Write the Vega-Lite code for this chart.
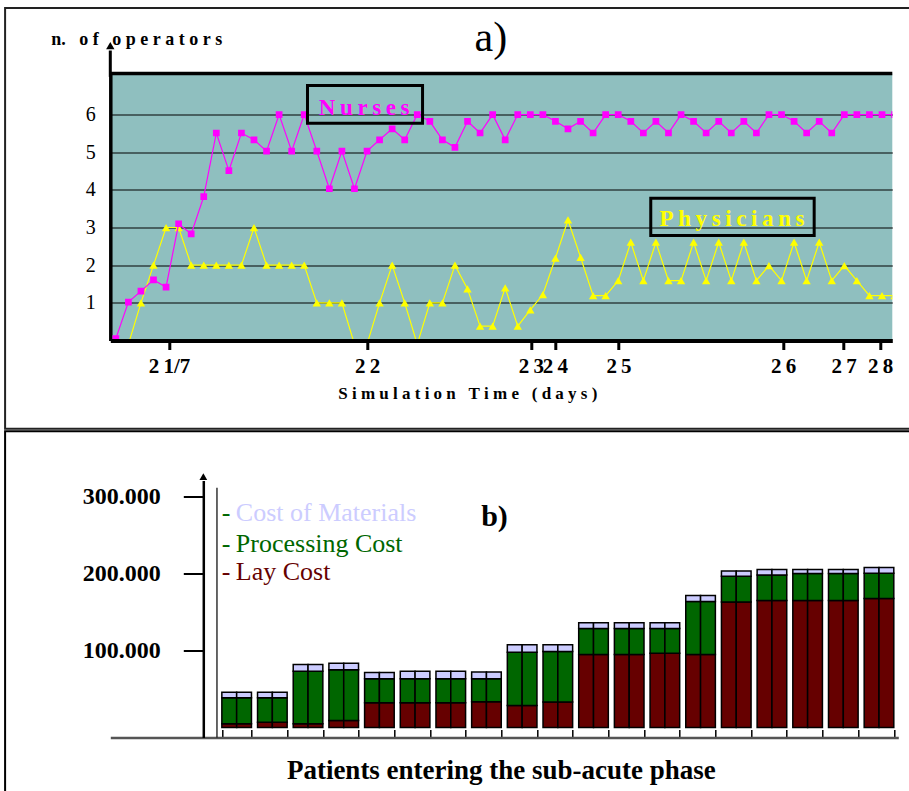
{
  "$schema": "https://vega.github.io/schema/vega-lite/v6.json",
  "background": "white",
  "padding": {"left": 3.3, "top": 6.5, "right": 0, "bottom": 0},
  "bounds": "flush",
  "spacing": 140,
  "config": {"view": {"stroke": null}, "font": "Liberation Serif"},
  "datasets": {
    "ops": [
      {"i":0,"s":"N","v":0.05},{"i":1,"s":"N","v":1.02},{"i":2,"s":"N","v":1.31},{"i":3,"s":"N","v":1.61},{"i":4,"s":"N","v":1.42},
      {"i":5,"s":"N","v":3.10},{"i":6,"s":"N","v":2.83},{"i":7,"s":"N","v":3.82},{"i":8,"s":"N","v":5.51},{"i":9,"s":"N","v":4.51},
      {"i":10,"s":"N","v":5.51},{"i":11,"s":"N","v":5.33},{"i":12,"s":"N","v":5.03},{"i":13,"s":"N","v":6.0},{"i":14,"s":"N","v":5.03},
      {"i":15,"s":"N","v":6.0},{"i":16,"s":"N","v":5.03},{"i":17,"s":"N","v":4.03},{"i":18,"s":"N","v":5.03},{"i":19,"s":"N","v":4.03},
      {"i":20,"s":"N","v":5.03},{"i":21,"s":"N","v":5.33},{"i":22,"s":"N","v":5.62},{"i":23,"s":"N","v":5.33},{"i":24,"s":"N","v":6.0},
      {"i":25,"s":"N","v":5.82},{"i":26,"s":"N","v":5.33},{"i":27,"s":"N","v":5.13},{"i":28,"s":"N","v":5.82},{"i":29,"s":"N","v":5.51},
      {"i":30,"s":"N","v":6.0},{"i":31,"s":"N","v":5.33},{"i":32,"s":"N","v":6.0},{"i":33,"s":"N","v":6.0},{"i":34,"s":"N","v":6.0},
      {"i":35,"s":"N","v":5.82},{"i":36,"s":"N","v":5.62},{"i":37,"s":"N","v":5.82},{"i":38,"s":"N","v":5.51},{"i":39,"s":"N","v":6.0},
      {"i":40,"s":"N","v":6.0},{"i":41,"s":"N","v":5.82},{"i":42,"s":"N","v":5.51},{"i":43,"s":"N","v":5.82},{"i":44,"s":"N","v":5.51},
      {"i":45,"s":"N","v":6.0},{"i":46,"s":"N","v":5.82},{"i":47,"s":"N","v":5.51},{"i":48,"s":"N","v":5.82},{"i":49,"s":"N","v":5.51},
      {"i":50,"s":"N","v":5.82},{"i":51,"s":"N","v":5.51},{"i":52,"s":"N","v":6.0},{"i":53,"s":"N","v":6.0},{"i":54,"s":"N","v":5.82},
      {"i":55,"s":"N","v":5.51},{"i":56,"s":"N","v":5.82},{"i":57,"s":"N","v":5.51},{"i":58,"s":"N","v":6.0},{"i":59,"s":"N","v":6.0},
      {"i":60,"s":"N","v":6.0},{"i":61,"s":"N","v":6.0},{"i":62,"s":"N","v":6.0},
      {"i":0,"s":"P","v":-0.1},{"i":1,"s":"P","v":-0.1},{"i":2,"s":"P","v":1.0},{"i":3,"s":"P","v":2.0},{"i":4,"s":"P","v":3.0},
      {"i":5,"s":"P","v":3.0},{"i":6,"s":"P","v":2.0},{"i":7,"s":"P","v":2.0},{"i":8,"s":"P","v":2.0},{"i":9,"s":"P","v":2.0},
      {"i":10,"s":"P","v":2.0},{"i":11,"s":"P","v":3.0},{"i":12,"s":"P","v":2.0},{"i":13,"s":"P","v":2.0},{"i":14,"s":"P","v":2.0},
      {"i":15,"s":"P","v":2.0},{"i":16,"s":"P","v":1.0},{"i":17,"s":"P","v":1.0},{"i":18,"s":"P","v":1.0},{"i":19,"s":"P","v":-0.1},
      {"i":20,"s":"P","v":-0.1},{"i":21,"s":"P","v":1.0},{"i":22,"s":"P","v":2.0},{"i":23,"s":"P","v":1.0},{"i":24,"s":"P","v":-0.1},
      {"i":25,"s":"P","v":1.0},{"i":26,"s":"P","v":1.0},{"i":27,"s":"P","v":2.0},{"i":28,"s":"P","v":1.37},{"i":29,"s":"P","v":0.38},
      {"i":30,"s":"P","v":0.38},{"i":31,"s":"P","v":1.4},{"i":32,"s":"P","v":0.38},{"i":33,"s":"P","v":0.81},{"i":34,"s":"P","v":1.22},
      {"i":35,"s":"P","v":2.19},{"i":36,"s":"P","v":3.2},{"i":37,"s":"P","v":2.21},{"i":38,"s":"P","v":1.19},{"i":39,"s":"P","v":1.19},
      {"i":40,"s":"P","v":1.59},{"i":41,"s":"P","v":2.61},{"i":42,"s":"P","v":1.59},{"i":43,"s":"P","v":2.61},{"i":44,"s":"P","v":1.59},
      {"i":45,"s":"P","v":1.59},{"i":46,"s":"P","v":2.61},{"i":47,"s":"P","v":1.59},{"i":48,"s":"P","v":2.61},{"i":49,"s":"P","v":1.59},
      {"i":50,"s":"P","v":2.61},{"i":51,"s":"P","v":1.59},{"i":52,"s":"P","v":1.99},{"i":53,"s":"P","v":1.59},{"i":54,"s":"P","v":2.61},
      {"i":55,"s":"P","v":1.59},{"i":56,"s":"P","v":2.61},{"i":57,"s":"P","v":1.59},{"i":58,"s":"P","v":1.99},{"i":59,"s":"P","v":1.59},
      {"i":60,"s":"P","v":1.19},{"i":61,"s":"P","v":1.19},{"i":62,"s":"P","v":1.19}
    ],
    "costs": [
      {"p":1,"h":"a","c":"Lay Cost","o":1,"v":4800},{"p":1,"h":"a","c":"Processing Cost","o":2,"v":33800},{"p":1,"h":"a","c":"Cost of Materials","o":3,"v":7200},
      {"p":1,"h":"b","c":"Lay Cost","o":1,"v":4800},{"p":1,"h":"b","c":"Processing Cost","o":2,"v":33800},{"p":1,"h":"b","c":"Cost of Materials","o":3,"v":7200},
      {"p":2,"h":"a","c":"Lay Cost","o":1,"v":6900},{"p":2,"h":"a","c":"Processing Cost","o":2,"v":31700},{"p":2,"h":"a","c":"Cost of Materials","o":3,"v":7200},
      {"p":2,"h":"b","c":"Lay Cost","o":1,"v":6900},{"p":2,"h":"b","c":"Processing Cost","o":2,"v":31700},{"p":2,"h":"b","c":"Cost of Materials","o":3,"v":7200},
      {"p":3,"h":"a","c":"Lay Cost","o":1,"v":4800},{"p":3,"h":"a","c":"Processing Cost","o":2,"v":68300},{"p":3,"h":"a","c":"Cost of Materials","o":3,"v":8700},
      {"p":3,"h":"b","c":"Lay Cost","o":1,"v":4800},{"p":3,"h":"b","c":"Processing Cost","o":2,"v":68300},{"p":3,"h":"b","c":"Cost of Materials","o":3,"v":8700},
      {"p":4,"h":"a","c":"Lay Cost","o":1,"v":9100},{"p":4,"h":"a","c":"Processing Cost","o":2,"v":65800},{"p":4,"h":"a","c":"Cost of Materials","o":3,"v":8600},
      {"p":4,"h":"b","c":"Lay Cost","o":1,"v":9100},{"p":4,"h":"b","c":"Processing Cost","o":2,"v":65800},{"p":4,"h":"b","c":"Cost of Materials","o":3,"v":8600},
      {"p":5,"h":"a","c":"Lay Cost","o":1,"v":32100},{"p":5,"h":"a","c":"Processing Cost","o":2,"v":31100},{"p":5,"h":"a","c":"Cost of Materials","o":3,"v":8200},
      {"p":5,"h":"b","c":"Lay Cost","o":1,"v":32100},{"p":5,"h":"b","c":"Processing Cost","o":2,"v":31100},{"p":5,"h":"b","c":"Cost of Materials","o":3,"v":8200},
      {"p":6,"h":"a","c":"Lay Cost","o":1,"v":32100},{"p":6,"h":"a","c":"Processing Cost","o":2,"v":31100},{"p":6,"h":"a","c":"Cost of Materials","o":3,"v":9900},
      {"p":6,"h":"b","c":"Lay Cost","o":1,"v":32100},{"p":6,"h":"b","c":"Processing Cost","o":2,"v":31100},{"p":6,"h":"b","c":"Cost of Materials","o":3,"v":9900},
      {"p":7,"h":"a","c":"Lay Cost","o":1,"v":32100},{"p":7,"h":"a","c":"Processing Cost","o":2,"v":31100},{"p":7,"h":"a","c":"Cost of Materials","o":3,"v":9900},
      {"p":7,"h":"b","c":"Lay Cost","o":1,"v":32100},{"p":7,"h":"b","c":"Processing Cost","o":2,"v":31100},{"p":7,"h":"b","c":"Cost of Materials","o":3,"v":9900},
      {"p":8,"h":"a","c":"Lay Cost","o":1,"v":33500},{"p":8,"h":"a","c":"Processing Cost","o":2,"v":30000},{"p":8,"h":"a","c":"Cost of Materials","o":3,"v":8500},
      {"p":8,"h":"b","c":"Lay Cost","o":1,"v":33500},{"p":8,"h":"b","c":"Processing Cost","o":2,"v":30000},{"p":8,"h":"b","c":"Cost of Materials","o":3,"v":8500},
      {"p":9,"h":"a","c":"Lay Cost","o":1,"v":28600},{"p":9,"h":"a","c":"Processing Cost","o":2,"v":69200},{"p":9,"h":"a","c":"Cost of Materials","o":3,"v":9700},
      {"p":9,"h":"b","c":"Lay Cost","o":1,"v":28600},{"p":9,"h":"b","c":"Processing Cost","o":2,"v":69200},{"p":9,"h":"b","c":"Cost of Materials","o":3,"v":9700},
      {"p":10,"h":"a","c":"Lay Cost","o":1,"v":33100},{"p":10,"h":"a","c":"Processing Cost","o":2,"v":65600},{"p":10,"h":"a","c":"Cost of Materials","o":3,"v":8800},
      {"p":10,"h":"b","c":"Lay Cost","o":1,"v":33100},{"p":10,"h":"b","c":"Processing Cost","o":2,"v":65600},{"p":10,"h":"b","c":"Cost of Materials","o":3,"v":8800},
      {"p":11,"h":"a","c":"Lay Cost","o":1,"v":94800},{"p":11,"h":"a","c":"Processing Cost","o":2,"v":33800},{"p":11,"h":"a","c":"Cost of Materials","o":3,"v":7500},
      {"p":11,"h":"b","c":"Lay Cost","o":1,"v":94800},{"p":11,"h":"b","c":"Processing Cost","o":2,"v":33800},{"p":11,"h":"b","c":"Cost of Materials","o":3,"v":7500},
      {"p":12,"h":"a","c":"Lay Cost","o":1,"v":94800},{"p":12,"h":"a","c":"Processing Cost","o":2,"v":33800},{"p":12,"h":"a","c":"Cost of Materials","o":3,"v":7500},
      {"p":12,"h":"b","c":"Lay Cost","o":1,"v":94800},{"p":12,"h":"b","c":"Processing Cost","o":2,"v":33800},{"p":12,"h":"b","c":"Cost of Materials","o":3,"v":7500},
      {"p":13,"h":"a","c":"Lay Cost","o":1,"v":96500},{"p":13,"h":"a","c":"Processing Cost","o":2,"v":32100},{"p":13,"h":"a","c":"Cost of Materials","o":3,"v":7500},
      {"p":13,"h":"b","c":"Lay Cost","o":1,"v":96500},{"p":13,"h":"b","c":"Processing Cost","o":2,"v":32100},{"p":13,"h":"b","c":"Cost of Materials","o":3,"v":7500},
      {"p":14,"h":"a","c":"Lay Cost","o":1,"v":94800},{"p":14,"h":"a","c":"Processing Cost","o":2,"v":69100},{"p":14,"h":"a","c":"Cost of Materials","o":3,"v":7500},
      {"p":14,"h":"b","c":"Lay Cost","o":1,"v":94800},{"p":14,"h":"b","c":"Processing Cost","o":2,"v":69100},{"p":14,"h":"b","c":"Cost of Materials","o":3,"v":7500},
      {"p":15,"h":"a","c":"Lay Cost","o":1,"v":163000},{"p":15,"h":"a","c":"Processing Cost","o":2,"v":33400},{"p":15,"h":"a","c":"Cost of Materials","o":3,"v":7100},
      {"p":15,"h":"b","c":"Lay Cost","o":1,"v":163000},{"p":15,"h":"b","c":"Processing Cost","o":2,"v":33400},{"p":15,"h":"b","c":"Cost of Materials","o":3,"v":7100},
      {"p":16,"h":"a","c":"Lay Cost","o":1,"v":165200},{"p":16,"h":"a","c":"Processing Cost","o":2,"v":33000},{"p":16,"h":"a","c":"Cost of Materials","o":3,"v":7000},
      {"p":16,"h":"b","c":"Lay Cost","o":1,"v":165200},{"p":16,"h":"b","c":"Processing Cost","o":2,"v":33000},{"p":16,"h":"b","c":"Cost of Materials","o":3,"v":7000},
      {"p":17,"h":"a","c":"Lay Cost","o":1,"v":165200},{"p":17,"h":"a","c":"Processing Cost","o":2,"v":34800},{"p":17,"h":"a","c":"Cost of Materials","o":3,"v":5200},
      {"p":17,"h":"b","c":"Lay Cost","o":1,"v":165200},{"p":17,"h":"b","c":"Processing Cost","o":2,"v":34800},{"p":17,"h":"b","c":"Cost of Materials","o":3,"v":5200},
      {"p":18,"h":"a","c":"Lay Cost","o":1,"v":165200},{"p":18,"h":"a","c":"Processing Cost","o":2,"v":34800},{"p":18,"h":"a","c":"Cost of Materials","o":3,"v":5200},
      {"p":18,"h":"b","c":"Lay Cost","o":1,"v":165200},{"p":18,"h":"b","c":"Processing Cost","o":2,"v":34800},{"p":18,"h":"b","c":"Cost of Materials","o":3,"v":5200},
      {"p":19,"h":"a","c":"Lay Cost","o":1,"v":167500},{"p":19,"h":"a","c":"Processing Cost","o":2,"v":32900},{"p":19,"h":"a","c":"Cost of Materials","o":3,"v":7400},
      {"p":19,"h":"b","c":"Lay Cost","o":1,"v":167500},{"p":19,"h":"b","c":"Processing Cost","o":2,"v":32900},{"p":19,"h":"b","c":"Cost of Materials","o":3,"v":7400}
    ]
  },
  "vconcat": [
    {
      "width": 782,
      "height": 267,
      "view": {"fill": "#8fbfbf", "stroke": null},
      "layer": [
        {
          "data": {"name": "ops"},
          "transform": [{"filter": "datum.s === 'P'"}],
          "mark": {"type": "line", "color": "#ffff00", "strokeWidth": 1.2, "clip": true},
          "encoding": {
            "x": {"field": "i", "type": "quantitative",
              "scale": {"domain": [-0.44, 61.82], "nice": false, "zero": false},
              "axis": {
                "values": [4.24, 20, 33.04, 34.95, 40.02, 53.13, 57.94, 60.85],
                "labelExpr": "datum.value < 10 ? '2\u20091/7' : datum.value < 25 ? '2\u20092' : datum.value < 34 ? '2\u20093' : datum.value < 38 ? '\u20022\u20094' : datum.value < 45 ? '2\u20095' : datum.value < 55 ? '2\u20096' : datum.value < 59 ? '2\u20097' : '2\u20098'",
                "labelFont": "Liberation Serif", "labelFontWeight": "bold", "labelFontSize": 21, "labelColor": "black",
                "labelPadding": 6, "labelOverlap": false, "labelFlush": false,
                "tickColor": "black", "tickWidth": 3, "tickSize": 9,
                "domainColor": "black", "domainWidth": 4, "grid": false,
                "title": "S\u2005i\u2005m\u2005u\u2005l\u2005a\u2005t\u2005i\u2005o\u2005n\u2005 \u2005T\u2005i\u2005m\u2005e\u2005 \u2005(\u2005d\u2005a\u2005y\u2005s\u2005)",
                "titleFont": "Liberation Serif", "titleFontWeight": "bold", "titleFontSize": 17, "titleColor": "black",
                "titleX": 357, "titleY": 58, "titleBaseline": "alphabetic", "titleAlign": "center",
                "zindex": 1
              }
            },
            "y": {"field": "v", "type": "quantitative",
              "scale": {"domain": [0, 7.09], "nice": false, "zero": false},
              "axis": {
                "values": [1, 2, 3, 4, 5, 6], "ticks": false, "tickSize": 0,
                "labelFont": "Liberation Serif", "labelFontSize": 20, "labelColor": "black", "labelPadding": 15,
                "domainColor": "black", "domainWidth": 3.5,
                "grid": true, "gridColor": "black", "gridWidth": 1, "gridOpacity": 1,
                "title": "n.\u2005 \u2005o\u2005f\u2005 \u2005o\u2005p\u2005e\u2005r\u2005a\u2005t\u2005o\u2005r\u2005s",
                "titleAngle": 0, "titleFont": "Liberation Serif", "titleFontSize": 18, "titleFontWeight": "bold", "titleColor": "black",
                "titleAlign": "left", "titleBaseline": "alphabetic", "titleX": -59.5, "titleY": -29
              }
            }
          }
        },
        {
          "data": {"name": "ops"},
          "transform": [{"filter": "datum.s === 'P'"}],
          "mark": {"type": "point", "shape": "triangle-up", "filled": true, "opacity": 1, "color": "#ffff00", "size": 70, "clip": true},
          "encoding": {
            "x": {"field": "i", "type": "quantitative", "scale": {"domain": [-0.44, 61.82], "nice": false, "zero": false}},
            "y": {"field": "v", "type": "quantitative", "scale": {"domain": [0, 7.09], "nice": false, "zero": false}}
          }
        },
        {
          "data": {"name": "ops"},
          "transform": [{"filter": "datum.s === 'N'"}],
          "mark": {"type": "line", "color": "#ff00ff", "strokeWidth": 1.2, "clip": true},
          "encoding": {
            "x": {"field": "i", "type": "quantitative", "scale": {"domain": [-0.44, 61.82], "nice": false, "zero": false}},
            "y": {"field": "v", "type": "quantitative", "scale": {"domain": [0, 7.09], "nice": false, "zero": false}}
          }
        },
        {
          "data": {"name": "ops"},
          "transform": [{"filter": "datum.s === 'N'"}],
          "mark": {"type": "point", "shape": "square", "filled": true, "opacity": 1, "color": "#ff00ff", "size": 45, "clip": true},
          "encoding": {
            "x": {"field": "i", "type": "quantitative", "scale": {"domain": [-0.44, 61.82], "nice": false, "zero": false}},
            "y": {"field": "v", "type": "quantitative", "scale": {"domain": [0, 7.09], "nice": false, "zero": false}}
          }
        },
        {"data": {"values": [{}]}, "mark": {"type": "rule", "color": "black", "strokeWidth": 3.5}, "encoding": {"y": {"datum": 7.09}}},
        {"data": {"values": [{}]}, "mark": {"type": "rule", "color": "black", "strokeWidth": 3}, "encoding": {"x": {"datum": -0.44}, "y": {"datum": 7.0}, "y2": {"datum": 7.7}}},
        {"data": {"values": [{}]}, "mark": {"type": "point", "shape": "triangle-up", "filled": true, "opacity": 1, "color": "black", "size": 70}, "encoding": {"x": {"datum": -0.44}, "y": {"datum": 7.83}}},
        {"data": {"values": [{}]}, "mark": {"type": "text", "text": "a)", "font": "Liberation Serif", "fontSize": 42, "color": "black", "align": "center", "baseline": "alphabetic"}, "encoding": {"x": {"datum": 29.86}, "y": {"datum": 7.7}}},
        {"data": {"values": [{}]}, "mark": {"type": "rect", "filled": false, "stroke": "black", "strokeWidth": 3}, "encoding": {"x": {"datum": 15.26}, "x2": {"datum": 24.42}, "y": {"datum": 6.77}, "y2": {"datum": 5.77}}},
        {"data": {"values": [{}]}, "mark": {"type": "text", "text": "N\u2009u\u2009r\u2009s\u2009e\u2009s", "font": "Liberation Serif", "fontWeight": "bold", "fontSize": 23, "color": "#ff00ff", "align": "center", "baseline": "alphabetic"}, "encoding": {"x": {"datum": 19.77}, "y": {"datum": 5.99}}},
        {"data": {"values": [{}]}, "mark": {"type": "rect", "filled": false, "stroke": "black", "strokeWidth": 3}, "encoding": {"x": {"datum": 42.59}, "x2": {"datum": 55.6}, "y": {"datum": 3.78}, "y2": {"datum": 2.79}}},
        {"data": {"values": [{}]}, "mark": {"type": "text", "text": "P\u2009h\u2009y\u2009s\u2009i\u2009c\u2009i\u2009a\u2009n\u2009s", "font": "Liberation Serif", "fontWeight": "bold", "fontSize": 23, "color": "#ffff00", "align": "center", "baseline": "alphabetic"}, "encoding": {"x": {"datum": 49.06}, "y": {"datum": 3.03}}},
        {"data": {"values": [{}]}, "mark": {"type": "rect", "filled": false, "stroke": "#222222", "strokeWidth": 2}, "encoding": {"x": {"datum": -8.816}, "x2": {"datum": 63.45}, "y": {"datum": 8.83}, "y2": {"datum": -2.345}}},
        {"data": {"values": [{}]}, "mark": {"type": "rect", "filled": false, "stroke": "black", "strokeWidth": 2}, "encoding": {"x": {"datum": -8.816}, "x2": {"datum": 63.45}, "y": {"datum": -2.411}, "y2": {"datum": -12.2}}}
      ]
    },
    {
      "width": 788,
      "height": 257,
      "layer": [
        {
          "data": {"name": "costs"},
          "mark": {"type": "bar", "stroke": "black", "strokeWidth": 1.5},
          "encoding": {
            "x": {"field": "p", "type": "ordinal",
              "scale": {"domain": [-2, -1, 0, 1, 2, 3, 4, 5, 6, 7, 8, 9, 10, 11, 12, 13, 14, 15, 16, 17, 18, 19], "paddingInner": 0.17, "paddingOuter": 0.126, "align": 0.5},
              "axis": {
                "values": [1, 2, 3, 4, 5, 6, 7, 8, 9, 10, 11, 12, 13, 14, 15, 16, 17, 18, 19],
                "labels": false, "tickBand": "extent", "tickSize": -8, "tickColor": "black", "tickWidth": 1.5,
                "domainColor": "#555555", "domainWidth": 2.5, "grid": false,
                "title": "Patients entering the sub-acute phase", "titleFont": "Liberation Serif", "titleFontSize": 27, "titleFontWeight": "bold", "titleColor": "black",
                "titleX": 390.5, "titleY": 41, "titleBaseline": "alphabetic", "titleAlign": "center"
              }
            },
            "xOffset": {"field": "h", "type": "nominal"},
            "y": {"field": "v", "type": "quantitative", "stack": "zero",
              "scale": {"domain": [-13000, 321000], "nice": false, "zero": false},
              "axis": {
                "values": [100000, 200000, 300000], "offset": -93,
                "labelExpr": "replace(format(datum.value, ','), ',', '.')",
                "labelFont": "Liberation Serif", "labelFontSize": 24, "labelFontWeight": "bold", "labelColor": "black", "labelPadding": 23,
                "tickSize": 20, "tickWidth": 2, "tickColor": "black",
                "domainColor": "black", "domainWidth": 2.5, "grid": false, "title": null
              }
            },
            "color": {"field": "c", "type": "nominal",
              "scale": {"domain": ["Cost of Materials", "Processing Cost", "Lay Cost"], "range": ["#ccccff", "#006600", "#660000"]},
              "legend": null},
            "order": {"field": "o", "type": "quantitative"}
          }
        },
        {"data": {"values": [{}]}, "mark": {"type": "point", "shape": "triangle-up", "filled": true, "opacity": 1, "color": "black", "size": 60}, "encoding": {"x": {"datum": 0, "type": "ordinal", "bandPosition": 0.58}, "y": {"datum": 326000, "type": "quantitative"}}},
        {"data": {"values": [{}]}, "mark": {"type": "rule", "color": "black", "strokeWidth": 1.2}, "encoding": {"x": {"datum": 0, "type": "ordinal", "bandPosition": 1.04}, "y": {"datum": 311700, "type": "quantitative"}, "y2": {"datum": -13000}}},
        {"data": {"values": [{}]}, "mark": {"type": "text", "text": "b)", "font": "Liberation Serif", "fontWeight": "bold", "fontSize": 30, "color": "black", "align": "center", "baseline": "alphabetic", "dx": 8}, "encoding": {"x": {"datum": 8, "type": "ordinal"}, "y": {"datum": 262300, "type": "quantitative"}}},
        {"data": {"values": [{}]}, "mark": {"type": "text", "text": "-", "font": "Liberation Serif", "fontSize": 26, "color": "#006600", "align": "left", "baseline": "alphabetic"}, "encoding": {"x": {"datum": 1, "type": "ordinal", "bandPosition": 0}, "y": {"datum": 267900, "type": "quantitative"}}},
        {"data": {"values": [{}]}, "mark": {"type": "text", "text": "Cost of Materials", "font": "Liberation Serif", "fontSize": 26, "color": "#ccccff", "align": "left", "baseline": "alphabetic", "dx": 14}, "encoding": {"x": {"datum": 1, "type": "ordinal", "bandPosition": 0}, "y": {"datum": 267900, "type": "quantitative"}}},
        {"data": {"values": [{}]}, "mark": {"type": "text", "text": "-", "font": "Liberation Serif", "fontSize": 26, "color": "#006600", "align": "left", "baseline": "alphabetic"}, "encoding": {"x": {"datum": 1, "type": "ordinal", "bandPosition": 0}, "y": {"datum": 227700, "type": "quantitative"}}},
        {"data": {"values": [{}]}, "mark": {"type": "text", "text": "Processing Cost", "font": "Liberation Serif", "fontSize": 26, "color": "#006600", "align": "left", "baseline": "alphabetic", "dx": 14}, "encoding": {"x": {"datum": 1, "type": "ordinal", "bandPosition": 0}, "y": {"datum": 227700, "type": "quantitative"}}},
        {"data": {"values": [{}]}, "mark": {"type": "text", "text": "-", "font": "Liberation Serif", "fontSize": 26, "color": "#660000", "align": "left", "baseline": "alphabetic"}, "encoding": {"x": {"datum": 1, "type": "ordinal", "bandPosition": 0}, "y": {"datum": 191800, "type": "quantitative"}}},
        {"data": {"values": [{}]}, "mark": {"type": "text", "text": "Lay Cost", "font": "Liberation Serif", "fontSize": 26, "color": "#660000", "align": "left", "baseline": "alphabetic", "dx": 14}, "encoding": {"x": {"datum": 1, "type": "ordinal", "bandPosition": 0}, "y": {"datum": 191800, "type": "quantitative"}}}
      ]
    }
  ]
}
